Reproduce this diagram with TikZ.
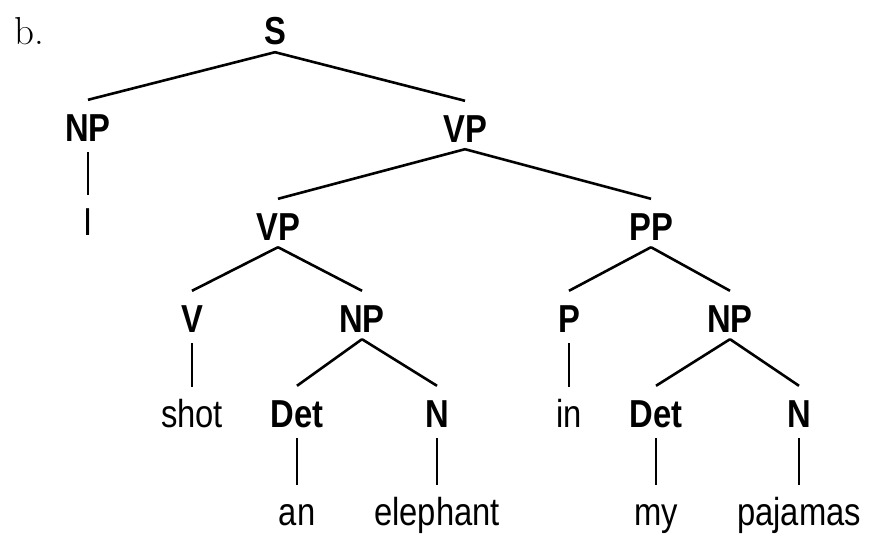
\documentclass[tikz,border=0pt]{standalone}
\usepackage{fontspec}
\newfontfamily\treefont{Liberation Sans}[FakeStretch=0.84]
\begin{document}
\begin{tikzpicture}[x=1pt,y=-1pt,
  lab/.style={font=\treefont\bfseries\fontsize{39}{41}\selectfont, anchor=base, inner sep=0pt, text height=29pt, text depth=0pt},
  word/.style={font=\treefont\fontsize{39}{41}\selectfont, anchor=base, inner sep=0pt, text height=29pt, text depth=0pt},
  edge/.style={line width=2.6pt}]
\useasboundingbox (0,0) rectangle (877,535);
\node[anchor=base west, inner sep=0pt, font=\fontsize{39}{42}\selectfont] (b) at (14,45) {b.};
\node[lab] (S) at (275,45) {S};
\node[lab] (NPa) at (88,141) {NP};
\node[lab] (VPa) at (465,142) {VP};
\node[word] (I) at (88,235) {I};
\node[lab] (VPb) at (278,240) {VP};
\node[lab] (PP) at (651,240) {PP};
\node[lab] (V) at (192,332) {V};
\node[lab] (NPb) at (362,332) {NP};
\node[lab] (P) at (569,332) {P};
\node[lab] (NPc) at (730,332) {NP};
\node[word] (shot) at (192,427) {shot};
\node[lab] (Deta) at (297,427) {Det};
\node[lab] (Na) at (437,427) {N};
\node[word] (in) at (569,427) {in};
\node[lab] (Detb) at (656,427) {Det};
\node[lab] (Nb) at (799,427) {N};
\node[word] (an) at (297,525) {an};
\node[word] (elephant) at (437,525) {elephant};
\node[word] (my) at (656,525) {my};
\node[word] (pajamas) at (799,525) {pajamas};
\foreach \p/\c in {S/NPa,S/VPa,VPa/VPb,VPa/PP,VPb/V,VPb/NPb,PP/P,PP/NPc,NPb/Deta,NPb/Na,NPc/Detb,NPc/Nb}
  \draw[edge] ([yshift=-7pt]\p.south) -- ([yshift=12pt]\c.north);
\foreach \p/\c in {NPa/I,V/shot,P/in,Deta/an,Na/elephant,Detb/my,Nb/pajamas}
  \draw[edge] ([yshift=-11pt]\p.south) -- ([yshift=11pt]\c.north);
\end{tikzpicture}
\end{document}
